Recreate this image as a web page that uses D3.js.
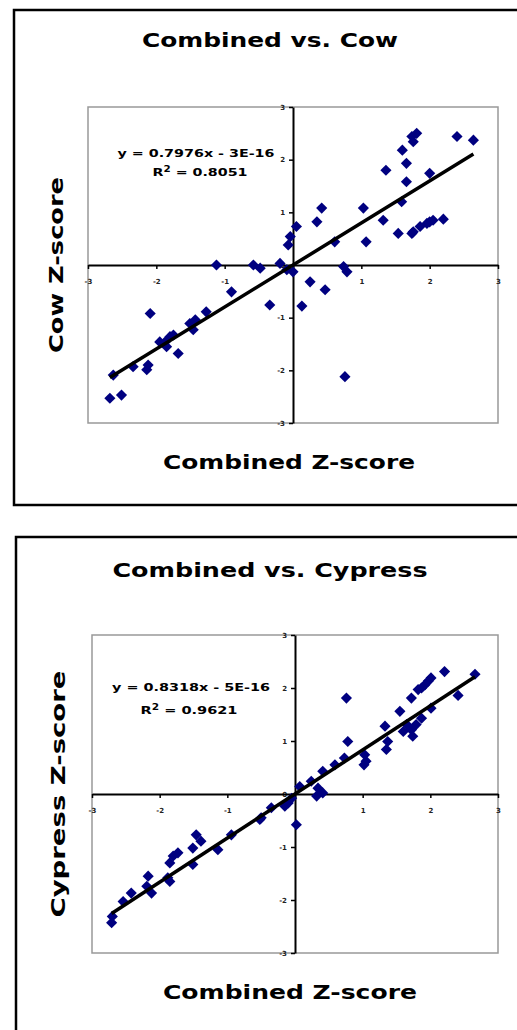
<!DOCTYPE html>
<html>
<head>
<meta charset="utf-8">
<script src="https://cdn.jsdelivr.net/npm/d3@7"></script>
<style>
  body { margin: 0; background: #fff; }
  svg { display: block; }
  text { font-family: "DejaVu Sans", Verdana, sans-serif; }
</style>
</head>
<body>
<div id="vis"></div>
<script>
var width  = 517;
var height = 1030;

// combined vs cow
var cowX = [1.81,1.74,1.76,2.40,2.64,1.60,1.66,1.36,1.66,2.00,1.59,1.03,1.32,2.20,2.05,2.00,1.96,1.86,1.76,1.54,1.74,1.07,0.61,0.42,0.35,0.05,-0.04,-0.07,0.74,0.79,0.25,0.47,0.13,0.76,-0.19,-0.09,0.00,-0.58,-0.48,-1.12,-0.90,-0.34,-1.27,-1.43,-1.51,-1.46,-1.68,-2.09,-1.80,-1.87,-1.95,-1.85,-1.75,-2.12,-2.14,-2.34,-2.63,-2.68,-2.51];
var cowY = [2.50,2.44,2.34,2.44,2.37,2.18,1.93,1.80,1.58,1.74,1.20,1.08,0.85,0.87,0.85,0.82,0.79,0.73,0.63,0.60,0.60,0.44,0.44,1.08,0.82,0.73,0.54,0.38,-0.03,-0.13,-0.32,-0.47,-0.78,-2.12,0.03,-0.09,-0.13,0.00,-0.06,0.00,-0.51,-0.76,-0.89,-1.04,-1.11,-1.23,-1.68,-0.92,-1.36,-1.46,-1.46,-1.55,-1.33,-1.90,-1.99,-1.93,-2.09,-2.53,-2.47];

// combined vs cypress
var cypX = [2.21,2.66,2.01,1.97,1.92,1.87,1.82,1.72,2.41,0.76,2.01,1.55,1.87,1.65,1.72,1.60,1.74,1.79,1.33,1.37,1.35,0.78,1.03,1.05,1.02,0.73,0.59,0.41,0.24,0.34,0.41,0.32,0.07,-0.05,-0.10,-0.15,0.02,-0.35,-0.50,-0.52,-0.94,-1.14,-1.46,-1.39,-1.51,-1.51,-1.73,-1.80,-1.85,-1.88,-1.85,-2.17,-2.19,-2.12,-2.42,-2.54,-2.70,-2.71];
var cypY = [2.31,2.26,2.19,2.13,2.06,2.00,1.97,1.81,1.86,1.81,1.62,1.56,1.43,1.31,1.21,1.18,1.09,1.31,1.28,0.99,0.84,0.99,0.74,0.62,0.55,0.68,0.55,0.43,0.24,0.11,0.02,-0.04,0.14,-0.08,-0.17,-0.23,-0.58,-0.26,-0.45,-0.48,-0.77,-1.05,-0.77,-0.89,-1.02,-1.33,-1.11,-1.17,-1.30,-1.58,-1.65,-1.55,-1.74,-1.87,-1.87,-2.03,-2.31,-2.43];

var tickValues = [-3, -2, -1, 0, 1, 2, 3];
var titles     = ["Combined vs. Cow", "Combined vs. Cypress"];
var yLabels    = ["Cow Z-score", "Cypress Z-score"];
var xLabel     = "Combined Z-score";
var slopes     = [0.7976, 0.8318];
var eqText     = ["y = 0.7976x - 3E-16", "y = 0.8318x - 5E-16"];
var r2Text     = ["0.8051", "0.9621"];

var svg = d3.select("#vis").append("svg")
  .attr("width", width)
  .attr("height", height);

var panels = [
  { xs: cowX, ys: cowY, frame: [14, 10, 522, 505], plot: [88, 107, 498, 423],
    title: [270, 47, 256], xlab: [289, 469, 252], ylab: [63, 176],
    eq: [196, 157, 157], r2: [200, 176, 95] },
  { xs: cypX, ys: cypY, frame: [16, 537, 522, 1045], plot: [92, 635, 498, 953],
    title: [270, 577, 315], xlab: [290, 999, 254], ylab: [65, 247],
    eq: [191, 691, 158], r2: [189, 714, 97] }
];

var fmt = function(d) { return String(d); };

panels.forEach(function(p, i) {
  var g = svg.append("g");
  var f = p.frame;

  // outer frame
  g.append("rect")
    .attr("x", f[0]).attr("y", f[1])
    .attr("width", f[2] - f[0]).attr("height", f[3] - f[1])
    .attr("fill", "none").attr("stroke", "#000").attr("stroke-width", 2.5);

  var x = d3.scaleLinear().domain([-3, 3]).range([p.plot[0], p.plot[2]]);
  var y = d3.scaleLinear().domain([-3, 3]).range([p.plot[3], p.plot[1]]);

  // plot area border
  g.append("rect")
    .attr("x", x(-3)).attr("y", y(3))
    .attr("width", x(3) - x(-3)).attr("height", y(-3) - y(3))
    .attr("fill", "none").attr("stroke", "#999").attr("stroke-width", 1.5);

  // axes crossing at zero
  var yAxis = d3.axisLeft(y).tickValues(tickValues).tickSize(4).tickSizeOuter(0)
    .tickFormat(fmt);
  var xAxis = d3.axisBottom(x).tickValues(tickValues).tickSize(4).tickSizeOuter(0)
    .tickFormat(function(d) { return d === 0 ? "" : fmt(d); });

  var ya = g.append("g").attr("transform", "translate(" + x(0) + ",0)").call(yAxis);
  var xa = g.append("g").attr("transform", "translate(0," + y(0) + ")").call(xAxis);

  [ya, xa].forEach(function(a) {
    a.select(".domain").attr("stroke", "#000").attr("stroke-width", 2);
    a.selectAll(".tick line").attr("stroke", "#000").attr("stroke-width", 1.5);
    a.selectAll(".tick text")
      .attr("font-family", "DejaVu Sans")
      .attr("font-size", 7).attr("font-weight", "bold").attr("fill", "#222");
  });
  xa.selectAll(".tick text").attr("y", 14);
  ya.selectAll(".tick text").attr("x", -8);

  // points
  var pts = p.xs.map(function(d, j) { return [d, p.ys[j]]; });
  var diamond = d3.symbol().type(d3.symbolSquare).size(62);
  g.append("g").selectAll("path")
    .data(pts)
    .enter().append("path")
    .attr("d", diamond)
    .attr("transform", function(d) { return "translate(" + x(d[0]) + "," + y(d[1]) + ")rotate(45)"; })
    .attr("fill", "#000080");

  // trend line over data extent
  var ext = d3.extent(p.xs);
  g.append("path")
    .datum(ext.map(function(v) { return [v, slopes[i] * v]; }))
    .attr("d", d3.line().x(function(d) { return x(d[0]); }).y(function(d) { return y(d[1]); }))
    .attr("stroke", "#000").attr("stroke-width", 3.5).attr("fill", "none");

  // equation
  g.append("text")
    .attr("x", p.eq[0]).attr("y", p.eq[1])
    .attr("text-anchor", "middle")
    .attr("font-size", 11).attr("font-weight", "bold")
    .attr("textLength", p.eq[2]).attr("lengthAdjust", "spacingAndGlyphs")
    .text(eqText[i]);
  var r2 = g.append("text")
    .attr("x", p.r2[0]).attr("y", p.r2[1])
    .attr("text-anchor", "middle")
    .attr("font-size", 11).attr("font-weight", "bold")
    .attr("textLength", p.r2[2]).attr("lengthAdjust", "spacingAndGlyphs");
  r2.append("tspan").text("R");
  r2.append("tspan").attr("dy", -4).attr("font-size", 8).text("2");
  r2.append("tspan").attr("dy", 4).text(" = " + r2Text[i]);

  // titles
  g.append("text")
    .attr("x", p.title[0]).attr("y", p.title[1])
    .attr("text-anchor", "middle")
    .attr("font-size", 19).attr("font-weight", "bold")
    .attr("textLength", p.title[2]).attr("lengthAdjust", "spacingAndGlyphs")
    .text(titles[i]);

  g.append("text")
    .attr("x", p.xlab[0]).attr("y", p.xlab[1])
    .attr("text-anchor", "middle")
    .attr("font-size", 19).attr("font-weight", "bold")
    .attr("textLength", p.xlab[2]).attr("lengthAdjust", "spacingAndGlyphs")
    .text(xLabel);

  g.append("text")
    .attr("transform", "translate(" + p.ylab[0] + "," + ((y(3) + y(-3)) / 2) + ")rotate(-90)")
    .attr("text-anchor", "middle")
    .attr("font-size", 19).attr("font-weight", "bold")
    .attr("textLength", p.ylab[1]).attr("lengthAdjust", "spacingAndGlyphs")
    .text(yLabels[i]);
});
</script>
</body>
</html>
